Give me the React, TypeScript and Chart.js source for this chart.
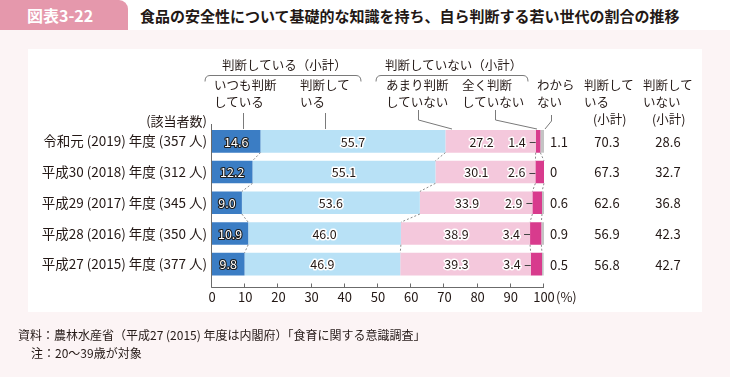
import React, { useEffect, useRef } from "react";
import { Chart, registerables } from "chart.js";

Chart.register(...registerables);

const FONT = '"Noto Sans CJK JP", "Noto Sans", sans-serif';
const INK = "#231815";

const categories = [
  "令和元 (2019) 年度 (357 人)",
  "平成30 (2018) 年度 (312 人)",
  "平成29 (2017) 年度 (345 人)",
  "平成28 (2016) 年度 (350 人)",
  "平成27 (2015) 年度 (377 人)",
];
const alwaysJudge = [14.6, 12.2, 9.0, 10.9, 9.8];
const judge = [55.7, 55.1, 53.6, 46.0, 46.9];
const rarelyJudge = [27.2, 30.1, 33.9, 38.9, 39.3];
const neverJudge = [1.4, 2.6, 2.9, 3.4, 3.4];
const unknown = [1.1, 0, 0.6, 0.9, 0.5];
const judgeSubtotal = [70.3, 67.3, 62.6, 56.9, 56.8];
const notJudgeSubtotal = [28.6, 32.7, 36.8, 42.3, 42.7];
const xTicks = [0, 10, 20, 30, 40, 50, 60, 70, 80, 90, 100];

const seriesNames = ["いつも判断している", "判断している", "あまり判断していない", "全く判断していない", "わからない"];
const seriesValues = [alwaysJudge, judge, rarelyJudge, neverJudge, unknown];
const seriesColors = ["#3b7dc4", "#b8e1f6", "#f4c8dc", "#d83b8d", "#c4c4c4"];

const fmt = (v: number) => (v === 0 ? "0" : v.toFixed(1));

function haloText(ctx: CanvasRenderingContext2D, text: string, x: number, y: number, fill: string, stroke: string, w: number) {
  ctx.lineJoin = "round";
  ctx.strokeStyle = stroke;
  ctx.lineWidth = w;
  ctx.strokeText(text, x, y);
  ctx.fillStyle = fill;
  ctx.fillText(text, x, y);
}

const overlay = {
  id: "overlay",
  afterDatasetsDraw(chart: any) {
    const ctx: CanvasRenderingContext2D = chart.ctx;
    const xs = chart.scales.x;
    const ys = chart.scales.y;
    const n = categories.length;
    const h = chart.getDatasetMeta(0).data[0].height;
    const cum = (i: number, k: number) => {
      let s = 0;
      for (let j = 0; j < k; j++) s += seriesValues[j][i];
      return s;
    };
    ctx.save();
    // dotted connectors between rows
    ctx.strokeStyle = "#8a8a8a";
    ctx.lineWidth = 1;
    ctx.setLineDash([2, 2]);
    for (let k = 1; k <= 4; k++) {
      for (let i = 0; i < n - 1; i++) {
        const y1 = ys.getPixelForValue(i) + h / 2;
        const y2 = ys.getPixelForValue(i + 1) - h / 2;
        ctx.beginPath();
        ctx.moveTo(xs.getPixelForValue(cum(i, k)), y1);
        ctx.lineTo(xs.getPixelForValue(cum(i + 1, k)), y2);
        ctx.stroke();
      }
    }
    ctx.setLineDash([]);

    // axis lines
    const axisY = 287.5;
    const x0 = Math.round(xs.getPixelForValue(0)) - 0.5;
    ctx.strokeStyle = "#6b6b6b";
    ctx.beginPath();
    ctx.moveTo(x0, chart.chartArea.top - 2);
    ctx.lineTo(x0, axisY);
    ctx.lineTo(xs.getPixelForValue(100), axisY);
    ctx.stroke();
    for (const t of xTicks) {
      const xp = Math.round(xs.getPixelForValue(t)) - 0.5;
      ctx.beginPath();
      ctx.moveTo(xp, axisY);
      ctx.lineTo(xp, axisY - 4);
      ctx.stroke();
    }

    // labels on bars
    ctx.font = `12.5px ${FONT}`;
    ctx.textBaseline = "middle";
    for (let i = 0; i < n; i++) {
      const y = ys.getPixelForValue(i) + 0.5;
      const a0 = xs.getPixelForValue(0);
      const a1 = xs.getPixelForValue(cum(i, 1));
      const a2 = xs.getPixelForValue(cum(i, 2));
      const a3 = xs.getPixelForValue(cum(i, 3));
      ctx.textAlign = "center";
      haloText(ctx, fmt(alwaysJudge[i]), (a0 + a1) / 2, y, "#ffffff", "#1d1d1d", 2.2);
      haloText(ctx, fmt(judge[i]), (a1 + a2) / 2, y, INK, "#ffffff", 3);
      haloText(ctx, fmt(rarelyJudge[i]), (a2 + a3) / 2 - 9, y, INK, "#ffffff", 3);
      ctx.textAlign = "right";
      haloText(ctx, fmt(neverJudge[i]), a3 - 10, y, INK, "#ffffff", 3);
      ctx.strokeStyle = "#444";
      ctx.lineWidth = 1;
      ctx.beginPath();
      ctx.moveTo(a3 - 6, Math.round(y) + 0.5);
      ctx.lineTo(a3, Math.round(y) + 0.5);
      ctx.stroke();
    }

    // right-hand columns
    ctx.font = `13px ${FONT}`;
    ctx.fillStyle = INK;
    for (let i = 0; i < n; i++) {
      const y = ys.getPixelForValue(i) + 0.5;
      ctx.textAlign = "left";
      ctx.fillText(fmt(unknown[i]), 550, y);
      ctx.textAlign = "center";
      ctx.fillText(fmt(judgeSubtotal[i]), 607, y);
      ctx.fillText(fmt(notJudgeSubtotal[i]), 668, y);
    }
    // (%)
    ctx.textAlign = "left";
    ctx.fillText("(%)", xs.getPixelForValue(100) + 12, 297.5);

    // brackets and leader lines
    ctx.strokeStyle = "#7a7a7a";
    ctx.lineWidth = 1;
    const bracket = (l: number, r: number, y: number) => {
      ctx.beginPath();
      ctx.moveTo(l, y + 6);
      ctx.quadraticCurveTo(l, y, l + 5, y);
      ctx.lineTo(r - 5, y);
      ctx.quadraticCurveTo(r, y, r, y + 6);
      ctx.stroke();
    };
    bracket(205, 361, 75.5);
    bracket(376, 528, 75.5);
    const poly = (pts: number[][]) => {
      ctx.beginPath();
      ctx.moveTo(pts[0][0], pts[0][1]);
      for (let p = 1; p < pts.length; p++) ctx.lineTo(pts[p][0], pts[p][1]);
      ctx.stroke();
    };
    poly([[243.5, 113], [243.5, 129]]);
    poly([[325.5, 113], [325.5, 129]]);
    poly([[418.5, 110], [418.5, 120], [452, 129]]);
    poly([[495.5, 110], [495.5, 120], [537, 129]]);
    poly([[551.5, 115], [551.5, 121], [545, 129]]);
    ctx.restore();
  },
};

function Txt(props: { left?: number; right?: number; cy: number; size?: number; children: React.ReactNode; weight?: number | string; color?: string }) {
  const size = props.size ?? 12.5;
  const lh = Math.round(size * 1.4);
  const style: React.CSSProperties = {
    position: "absolute",
    top: props.cy - lh / 2,
    lineHeight: `${lh}px`,
    fontSize: size,
    whiteSpace: "nowrap",
    color: props.color ?? INK,
    fontWeight: props.weight ?? 400,
  };
  if (props.left !== undefined) style.left = props.left;
  if (props.right !== undefined) style.right = 730 - props.right;
  return <div style={style}>{props.children}</div>;
}

export default function App() {
  const ref = useRef<HTMLCanvasElement>(null);
  useEffect(() => {
    if (!ref.current) return;
    const chart = new Chart(ref.current, {
      type: "bar",
      data: {
        labels: categories,
        datasets: seriesValues.map((vals, k) => ({
          label: seriesNames[k],
          data: vals,
          backgroundColor: seriesColors[k],
          borderWidth: 0,
          barPercentage: 0.735,
          categoryPercentage: 1,
        })),
      },
      options: {
        indexAxis: "y",
        responsive: false,
        animation: false,
        layout: { padding: { left: 0, right: 186, top: 126, bottom: 67.5 } },
        plugins: { legend: { display: false }, tooltip: { enabled: false } },
        scales: {
          x: {
            stacked: true,
            min: 0,
            max: 100,
            position: "bottom",
            grid: { display: false, drawTicks: false },
            border: { display: false },
            ticks: { stepSize: 10, padding: 10, color: INK, font: { family: FONT, size: 13 }, maxRotation: 0, autoSkip: false },
            afterFit: (s: any) => { s.height = 30; },
          },
          y: {
            stacked: true,
            grid: { display: false, drawTicks: false },
            border: { display: false },
            ticks: { padding: 5, color: INK, font: { family: FONT, size: 13.5 } },
            afterFit: (s: any) => { s.width = 212; },
          },
        },
      },
      plugins: [overlay],
    } as any);
    return () => chart.destroy();
  }, []);

  return (
    <div style={{ position: "fixed", left: 0, top: 0, width: 730, height: 377, background: "#fcf4f5", fontFamily: FONT, overflow: "hidden" }}>
      <div style={{ position: "absolute", left: 0, top: 0, width: 730, height: 30, background: "#ffffff" }} />
      <div style={{ position: "absolute", left: 0, top: 0, width: 128, height: 30, background: "#e598ac", borderTopRightRadius: 9 }} />
      <Txt left={27} cy={15} size={16} weight={700} color="#ffffff">図表3-22</Txt>
      <Txt left={140} cy={15} size={15} weight={700}>食品の安全性について基礎的な知識を持ち、自ら判断する若い世代の割合の推移</Txt>
      <div style={{ position: "absolute", left: 28, top: 49, width: 674, height: 263, background: "#ffffff" }} />
      <canvas ref={ref} width={730} height={377} style={{ position: "absolute", left: 0, top: 0, width: 730, height: 377 }} />
      <Txt left={222} cy={65}>判断している（小計）</Txt>
      <Txt left={385} cy={65}>判断していない（小計）</Txt>
      <Txt left={214} cy={85}>いつも判断</Txt>
      <Txt left={214} cy={102}>している</Txt>
      <Txt left={300} cy={85}>判断して</Txt>
      <Txt left={300} cy={102}>いる</Txt>
      <Txt left={386} cy={85}>あまり判断</Txt>
      <Txt left={386} cy={102}>していない</Txt>
      <Txt left={462} cy={85}>全く判断</Txt>
      <Txt left={462} cy={102}>していない</Txt>
      <Txt left={537} cy={85}>わから</Txt>
      <Txt left={537} cy={102}>ない</Txt>
      <Txt left={584} cy={85}>判断して</Txt>
      <Txt left={584} cy={102}>いる</Txt>
      <Txt left={593} cy={119}>(小計)</Txt>
      <Txt left={643} cy={85}>判断して</Txt>
      <Txt left={643} cy={102}>いない</Txt>
      <Txt left={652} cy={119}>(小計)</Txt>
      <Txt right={207} cy={121} size={13}>(該当者数)</Txt>
      <Txt left={18} cy={334} size={12}>資料：農林水産省（平成27 (2015) 年度は内閣府）「食育に関する意識調査」</Txt>
      <Txt left={31} cy={352} size={12}>注：20～39歳が対象</Txt>
    </div>
  );
}
